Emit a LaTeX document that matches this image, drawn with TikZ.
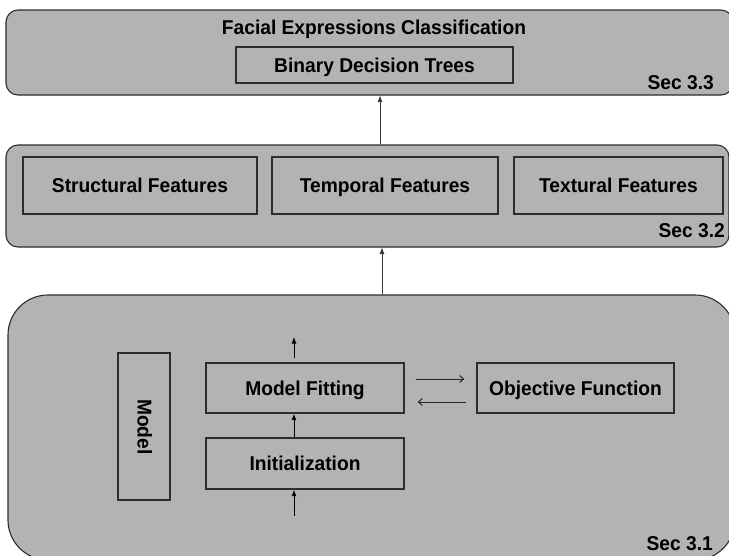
\documentclass[tikz,border=0pt]{standalone}
\usepackage{fontspec}
\setmainfont{Liberation Sans}[FakeStretch=0.96]
\usetikzlibrary{arrows.meta}
\definecolor{panelgrey}{RGB}{179,179,179}
\definecolor{edgegrey}{RGB}{45,45,45}
\tikzset{
  panel/.style={draw=edgegrey, line width=1.1pt, fill=panelgrey, inner sep=0pt},
  stepbox/.style={draw=edgegrey, line width=1.3pt, inner sep=0pt, text height=14pt, text depth=0pt, font=\fontsize{20}{22}\selectfont\bfseries},
  lbl/.style={inner sep=0pt, font=\fontsize{20}{22}\selectfont\bfseries},
  uparrow/.style={draw=black, line width=0.9pt, -{Latex[length=6.5pt,width=5pt]}},
  linkarrow/.style={draw=black!80, line width=0.8pt, -{Latex[length=6.5pt,width=5pt]}},
  openarrow/.style={draw=black!85, line width=1pt, -{Straight Barb[length=4pt,width=7pt]}}
}
\begin{document}
\begin{tikzpicture}[x=1pt,y=-1pt]
\useasboundingbox (0,0) rectangle (729,555);
\fill[white] (0,0) rectangle (729,555);
% panels
\node[panel, rounded corners=12pt, minimum width=727pt, minimum height=85pt] (p3) at (369.5,52.5) {};
\node[panel, rounded corners=12pt, minimum width=723pt, minimum height=102pt] (p2) at (367.5,196) {};
\node[panel, rounded corners=40pt, minimum width=727pt, minimum height=265pt] (p1) at (371.5,427.5) {};
% top panel content
\node[lbl, anchor=base] (title) at (374,34) {Facial Expressions Classification};
\node[stepbox, minimum width=277pt, minimum height=36pt] (bdt) at (374.5,65) {Binary Decision Trees};
\node[lbl, anchor=base east] (s33) at (714,89) {Sec 3.3};
% middle panel content
\node[stepbox, minimum width=234pt, minimum height=57pt] (struct) at (140,185.5) {Structural Features};
\node[stepbox, minimum width=226pt, minimum height=57pt] (temp) at (385,185.5) {Temporal Features};
\node[stepbox, minimum width=209pt, minimum height=57pt] (text) at (618.5,185.5) {Textural Features};
\node[lbl, anchor=base east] (s32) at (725,237) {Sec 3.2};
% bottom panel content
\node[stepbox, minimum width=52pt, minimum height=147pt] (model) at (144,426.5) {};
\node[lbl, rotate=-90, text height=14pt, text depth=0pt] (modeltxt) at (144.5,427) {Model};
\node[stepbox, minimum width=198pt, minimum height=50pt] (mf) at (305,388) {Model Fitting};
\node[stepbox, minimum width=198pt, minimum height=51pt] (init) at (305,463.5) {Initialization};
\node[stepbox, minimum width=197pt, minimum height=50pt] (of) at (575.5,388) {Objective Function};
\node[lbl, anchor=base east] (s31) at (713,550) {Sec 3.1};
% free ends
\coordinate (mftop) at (294,358);
\coordinate (mfout) at (294,337);
\coordinate (initin) at (294,516);
% arrows
\draw[uparrow] (mftop) -- (mfout);
\draw[uparrow] (init.north -| mftop) -- (mf.south -| mftop);
\draw[uparrow] (initin) -- (init.south -| initin);
\draw[openarrow] ([xshift=11pt,yshift=9pt]mf.east) -- ([xshift=-12pt,yshift=9pt]of.west);
\draw[openarrow] ([xshift=-10pt,yshift=-14pt]of.west) -- ([xshift=13pt,yshift=-14pt]mf.east);
\draw[linkarrow] (p1.north -| 382,0) -- (p2.south -| 382,0);
\draw[linkarrow] (p2.north -| 380,0) -- (p3.south -| 380,0);
\end{tikzpicture}
\end{document}
